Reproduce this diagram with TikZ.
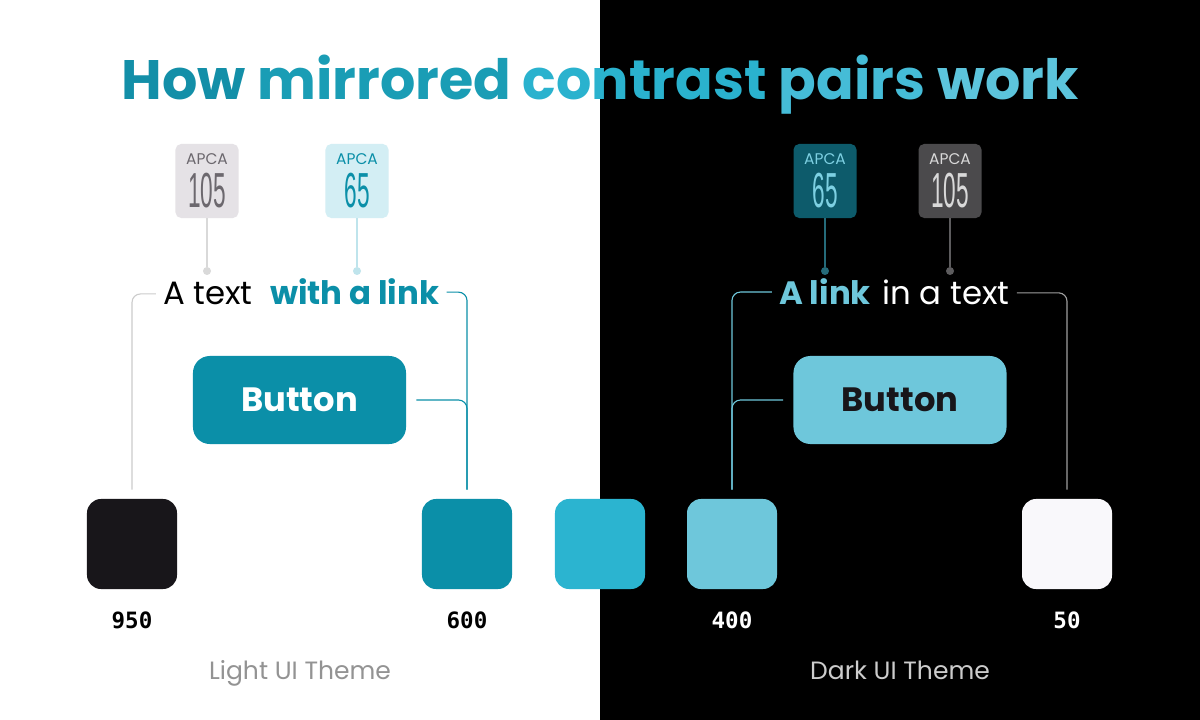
\documentclass[tikz,border=0pt]{standalone}
\usepackage{fontspec}
\setmainfont{Poppins}
\newfontfamily\monofont{DejaVu Sans Mono}
\newfontfamily\digitfont{Liberation Sans}
\usetikzlibrary{positioning}
\definecolor{tealsix}{HTML}{0B8FA8}
\definecolor{tealfive}{HTML}{2BB4D0}
\definecolor{tealfour}{HTML}{6EC7DB}
\definecolor{inkninefifty}{HTML}{18161A}
\definecolor{paperfifty}{HTML}{F9F8FB}
\definecolor{titleA}{HTML}{138FA8}
\definecolor{titleB}{HTML}{1A9DB5}
\definecolor{titleC}{HTML}{2AB2CE}
\definecolor{titleD}{HTML}{45BCD7}
\definecolor{titleE}{HTML}{5CC4DC}
\definecolor{bgraylt}{HTML}{E5E2E6}
\definecolor{bgraytx}{HTML}{6C686E}
\definecolor{bbluelt}{HTML}{D3EEF4}
\definecolor{bdkteal}{HTML}{0D5B6B}
\definecolor{bdktealtx}{HTML}{7DD0E2}
\definecolor{bdkgray}{HTML}{4B4A4C}
\definecolor{bdkgraytx}{HTML}{D9D9D9}
\newcommand{\apcabadge}[1]{{\fontsize{11}{12}\selectfont APCA}\\[5pt]%
  {\digitfont\fontsize{35}{35}\selectfont\scalebox{0.46}[1]{#1}}}

\begin{document}
\begin{tikzpicture}[x=0.025cm,y=-0.025cm,
  swatch/.style={rounded corners=10pt,minimum size=2.25cm,inner sep=0},
  badge/.style={rounded corners=4pt,minimum width=1.575cm,minimum height=1.85cm,
    inner sep=0,align=center},
  btn/.style={rounded corners=12pt,minimum width=5.325cm,minimum height=2.2cm,
    font=\fontsize{24}{28}\selectfont\bfseries},
  words/.style={inner sep=0,anchor=base,font=\fontsize{23}{27}\selectfont},
  pin/.style={circle,inner sep=0,minimum size=0.2cm},
  brk/.style={line width=0.8pt,rounded corners=6pt,shorten >=0.23cm},
  num/.style={font=\monofont\bfseries\fontsize{16}{18}\selectfont},
  theme/.style={anchor=base,font=\fontsize{17.8}{20}\selectfont}]
  % two halves
  \fill[white] (0,0) rectangle (600,720);
  \fill[black] (600,0) rectangle (1200,720);
  \node[anchor=base,inner sep=0,font=\fontsize{39.5}{44}\selectfont\bfseries] (title) at (600,100)
    {\textcolor{titleA}{How} \textcolor{titleB}{mirrored}
     \textcolor{titleC}{contrast} \textcolor{titleD}{pairs}
     \textcolor{titleE}{work}};
  % swatches
  \node[swatch,fill=inkninefifty] (sw950) at (132,544) {};
  \node[swatch,fill=tealsix] (sw600) at (467,544) {};
  \node[swatch,fill=tealfive] (sw500) at (600,544) {};
  \node[swatch,fill=tealfour] (sw400) at (732,544) {};
  \node[swatch,fill=paperfifty] (sw50) at (1067,544) {};
  \node[num,text=black,below=0.45cm of sw950] (n950) {950};
  \node[num,text=black,below=0.45cm of sw600] (n600) {600};
  \node[num,text=white,below=0.45cm of sw400] (n400) {400};
  \node[num,text=white,below=0.45cm of sw50] (n50) {50};
  % buttons
  \node[btn,fill=tealsix,text=white] (btnL) at (299.5,400) {Button};
  \node[btn,fill=tealfour,text=inkninefifty] (btnR) at (900,400) {Button};
  % sample texts
  \node[words,text=black] (plainL) at (208,305) {A text};
  \node[words,anchor=base west,text=tealsix,font=\fontsize{23}{27}\selectfont\bfseries]
    (linkL) at ([xshift=0.42cm]plainL.base east) {with a link};
  \node[words,text=tealfour,font=\fontsize{23}{27}\selectfont\bfseries] (linkR) at (825,305) {A link};
  \node[words,anchor=base west,text=white] (plainR) at ([xshift=0.28cm]linkR.base east) {in a text};
  % APCA badges
  \node[badge,fill=bgraylt,text=bgraytx] (b105L) at (207,181) {\apcabadge{105}};
  \node[badge,fill=bbluelt,text=tealsix] (b65L) at (357,181) {\apcabadge{65}};
  \node[badge,fill=bdkteal,text=bdktealtx] (b65R) at (825,181) {\apcabadge{65}};
  \node[badge,fill=bdkgray,text=bdkgraytx] (b105R) at (950,181) {\apcabadge{105}};
  \node[pin,fill=gray!30] (p105L) at (207,271) {};
  \node[pin,fill=bbluelt!90!tealsix] (p65L) at (357,271) {};
  \node[pin,fill=bdkteal!90!white] (p65R) at (825,271) {};
  \node[pin,fill=bdkgray!90!white] (p105R) at (950,271) {};
  \draw[line width=0.8pt,gray!30] (b105L) -- (p105L);
  \draw[line width=0.8pt,bbluelt!90!tealsix] (b65L) -- (p65L);
  \draw[line width=0.8pt,bdkteal!90!white] (b65R) -- (p65R);
  \draw[line width=0.8pt,bdkgray!90!white] (b105R) -- (p105R);
  % brackets to the swatches
  \draw[brk,gray!40] ([xshift=-0.18cm]plainL.west) -| (sw950.north);
  \draw[brk,tealsix] ([xshift=0.18cm]linkL.east) -| (sw600.north);
  \draw[brk,tealsix] ([xshift=0.25cm]btnL.east) -| (sw600.north);
  \draw[brk,tealfour] ([xshift=-0.18cm]linkR.west) -| (sw400.north);
  \draw[brk,tealfour] ([xshift=-0.25cm]btnR.west) -| (sw400.north);
  \draw[brk,gray!75] ([xshift=0.18cm]plainR.east) -| (sw50.north);
  % theme names
  \node[theme,text=gray!85] (lightui) at (300,679) {Light UI Theme};
  \node[theme,text=gray!40] (darkui) at (900,679) {Dark UI Theme};
\end{tikzpicture}
\end{document}
